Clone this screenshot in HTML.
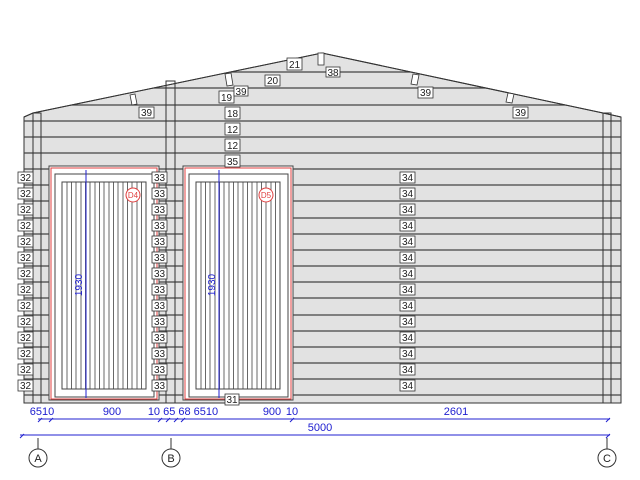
<!DOCTYPE html>
<html><head><style>body{margin:0;background:#fff}svg{display:block}</style></head><body>
<svg width="640" height="480" viewBox="0 0 640 480" xmlns="http://www.w3.org/2000/svg" font-family="Liberation Sans, sans-serif">
<defs><clipPath id="w"><polygon points="24,117 33,113 322,53 603,113 621,117 621,403 24,403"/></clipPath></defs>
<polygon points="24,117 33,113 322,53 603,113 621,117 621,403 24,403" fill="#e2e2e2" stroke="#333" stroke-width="1"/>
<g clip-path="url(#w)" stroke="#444" stroke-width="1.2">
<line x1="0" x2="640" y1="72" y2="72"/><line x1="0" x2="640" y1="88" y2="88"/><line x1="0" x2="640" y1="105" y2="105"/>
<line x1="0" x2="640" y1="121" y2="121"/><line x1="0" x2="640" y1="137" y2="137"/><line x1="0" x2="640" y1="153" y2="153"/>
<line x1="0" x2="640" y1="169" y2="169"/><line x1="0" x2="640" y1="185" y2="185"/><line x1="0" x2="640" y1="201" y2="201"/>
<line x1="0" x2="640" y1="218" y2="218"/><line x1="0" x2="640" y1="234" y2="234"/><line x1="0" x2="640" y1="250" y2="250"/>
<line x1="0" x2="640" y1="266" y2="266"/><line x1="0" x2="640" y1="282" y2="282"/><line x1="0" x2="640" y1="298" y2="298"/>
<line x1="0" x2="640" y1="315" y2="315"/><line x1="0" x2="640" y1="331" y2="331"/><line x1="0" x2="640" y1="347" y2="347"/>
<line x1="0" x2="640" y1="363" y2="363"/><line x1="0" x2="640" y1="379" y2="379"/><line x1="0" x2="640" y1="395" y2="395"/>
</g>
<g fill="none" stroke="#333">
<rect x="33" y="113" width="8" height="290"/><rect x="166" y="81" width="9" height="322"/><rect x="603" y="113" width="8" height="290"/>
</g>
<polyline points="24,117 33,113 322,53 603,113 621,117" fill="none" stroke="#333"/>
<g fill="#fff" stroke="#333" stroke-width="0.8">
<rect x="318" y="53" width="6" height="12"/>
<polygon points="130,95 135,94 137,104 132,105"/><polygon points="225,74 231,73 233,85 227,86"/>
<polygon points="413,74 419,75 417,85 411,84"/><polygon points="508,93 514,94 512,103 506,102"/>
</g>
<g fill="none">
<rect x="49" y="166" width="110" height="234" stroke="#444" fill="#fff"/><rect x="51" y="168" width="106" height="231" stroke="#e04040"/>
<rect x="55" y="174" width="99" height="223" stroke="#444"/><rect x="62" y="182" width="84" height="207" stroke="#444"/>
<rect x="183" y="166" width="110" height="234" stroke="#444" fill="#fff"/><rect x="185" y="168" width="106" height="231" stroke="#e04040"/>
<rect x="189" y="174" width="99" height="223" stroke="#444"/><rect x="196" y="182" width="84" height="207" stroke="#444"/>
</g>
<g stroke="#444" stroke-width="0.8">
<path d="M67 182V389M71.5 182V389M76 182V389M81 182V389M85.5 182V389M90 182V389M95 182V389M99.5 182V389M104 182V389M109 182V389M113.5 182V389M118 182V389M123 182V389M127.5 182V389M132 182V389M137 182V389M141.5 182V389"/>
<path d="M201 182V389M205.5 182V389M210 182V389M215 182V389M219.5 182V389M224 182V389M229 182V389M233.5 182V389M238 182V389M243 182V389M247.5 182V389M252 182V389M257 182V389M261.5 182V389M266 182V389M271 182V389M275.5 182V389"/>
</g>
<circle cx="133" cy="195" r="7" fill="#fff" stroke="#e04040"/><text x="133" y="198" font-size="8" fill="#e04040" text-anchor="middle">D4</text>
<circle cx="266" cy="195" r="7" fill="#fff" stroke="#e04040"/><text x="266" y="198" font-size="8" fill="#e04040" text-anchor="middle">D5</text>
<g stroke="#2020d0" fill="none"><line x1="86" y1="170" x2="86" y2="398"/><line x1="219" y1="170" x2="219" y2="398"/></g>
<text transform="translate(82,285) rotate(-90)" font-size="10" fill="#2020d0" text-anchor="middle">1930</text>
<text transform="translate(215,285) rotate(-90)" font-size="10" fill="#2020d0" text-anchor="middle">1930</text>
<g font-size="10" fill="#222" stroke-width="0.8">
<g stroke="#333" fill="#fff">
<rect x="18" y="172" width="15" height="11"/><rect x="18" y="188" width="15" height="11"/><rect x="18" y="204" width="15" height="11"/><rect x="18" y="220" width="15" height="11"/><rect x="18" y="236" width="15" height="11"/><rect x="18" y="252" width="15" height="11"/><rect x="18" y="268" width="15" height="11"/><rect x="18" y="284" width="15" height="11"/><rect x="18" y="300" width="15" height="11"/><rect x="18" y="316" width="15" height="11"/><rect x="18" y="332" width="15" height="11"/><rect x="18" y="348" width="15" height="11"/><rect x="18" y="364" width="15" height="11"/><rect x="18" y="380" width="15" height="11"/>
<rect x="152" y="172" width="15" height="11"/><rect x="152" y="188" width="15" height="11"/><rect x="152" y="204" width="15" height="11"/><rect x="152" y="220" width="15" height="11"/><rect x="152" y="236" width="15" height="11"/><rect x="152" y="252" width="15" height="11"/><rect x="152" y="268" width="15" height="11"/><rect x="152" y="284" width="15" height="11"/><rect x="152" y="300" width="15" height="11"/><rect x="152" y="316" width="15" height="11"/><rect x="152" y="332" width="15" height="11"/><rect x="152" y="348" width="15" height="11"/><rect x="152" y="364" width="15" height="11"/><rect x="152" y="380" width="15" height="11"/>
<rect x="400" y="172" width="15" height="11"/><rect x="400" y="188" width="15" height="11"/><rect x="400" y="204" width="15" height="11"/><rect x="400" y="220" width="15" height="11"/><rect x="400" y="236" width="15" height="11"/><rect x="400" y="252" width="15" height="11"/><rect x="400" y="268" width="15" height="11"/><rect x="400" y="284" width="15" height="11"/><rect x="400" y="300" width="15" height="11"/><rect x="400" y="316" width="15" height="11"/><rect x="400" y="332" width="15" height="11"/><rect x="400" y="348" width="15" height="11"/><rect x="400" y="364" width="15" height="11"/><rect x="400" y="380" width="15" height="11"/>
<rect x="225" y="155" width="15" height="12"/><rect x="225" y="123" width="15" height="12"/><rect x="225" y="139" width="15" height="12"/><rect x="225" y="107" width="15" height="12"/><rect x="219" y="91" width="15" height="12"/><rect x="234" y="86" width="14" height="10"/><rect x="265" y="75" width="15" height="11"/><rect x="287" y="58" width="15" height="12"/><rect x="326" y="67" width="14" height="10"/><rect x="139" y="107" width="15" height="11"/><rect x="418" y="87" width="15" height="11"/><rect x="513" y="107" width="15" height="11"/><rect x="225" y="394" width="14" height="11"/>
</g>
<g text-anchor="middle">
<text x="25.5" y="181">32</text><text x="25.5" y="197">32</text><text x="25.5" y="213">32</text><text x="25.5" y="229">32</text><text x="25.5" y="245">32</text><text x="25.5" y="261">32</text><text x="25.5" y="277">32</text><text x="25.5" y="293">32</text><text x="25.5" y="309">32</text><text x="25.5" y="325">32</text><text x="25.5" y="341">32</text><text x="25.5" y="357">32</text><text x="25.5" y="373">32</text><text x="25.5" y="389">32</text>
<text x="159.5" y="181">33</text><text x="159.5" y="197">33</text><text x="159.5" y="213">33</text><text x="159.5" y="229">33</text><text x="159.5" y="245">33</text><text x="159.5" y="261">33</text><text x="159.5" y="277">33</text><text x="159.5" y="293">33</text><text x="159.5" y="309">33</text><text x="159.5" y="325">33</text><text x="159.5" y="341">33</text><text x="159.5" y="357">33</text><text x="159.5" y="373">33</text><text x="159.5" y="389">33</text>
<text x="407.5" y="181">34</text><text x="407.5" y="197">34</text><text x="407.5" y="213">34</text><text x="407.5" y="229">34</text><text x="407.5" y="245">34</text><text x="407.5" y="261">34</text><text x="407.5" y="277">34</text><text x="407.5" y="293">34</text><text x="407.5" y="309">34</text><text x="407.5" y="325">34</text><text x="407.5" y="341">34</text><text x="407.5" y="357">34</text><text x="407.5" y="373">34</text><text x="407.5" y="389">34</text>
<text x="232.5" y="165">35</text><text x="232.5" y="149">12</text><text x="232.5" y="133">12</text><text x="232.5" y="117">18</text><text x="226.5" y="101">19</text><text x="241" y="95">39</text><text x="272.5" y="84">20</text><text x="294.5" y="68">21</text><text x="333" y="76">38</text><text x="146.5" y="116">39</text><text x="425.5" y="96">39</text><text x="520.5" y="116">39</text><text x="232" y="403">31</text>
</g>
</g>
<g stroke="#2020d0" fill="none">
<line x1="38" y1="419" x2="610" y2="419"/><line x1="20" y1="435" x2="610" y2="435"/>
<path d="M38 422l4-4M49 422l4-4M158 422l4-4M166 422l4-4M174 422l4-4M181 422l4-4M290 422l4-4M606 422l4-4M20 438l4-4M606 438l4-4"/>
</g>
<g fill="#2020d0" font-size="11" text-anchor="middle">
<text x="42" y="415">6510</text><text x="112" y="415">900</text><text x="183" y="415">10 65 68 6510</text><text x="272" y="415">900</text><text x="292" y="415">10</text><text x="456" y="415">2601</text><text x="320" y="431">5000</text>
</g>
<g stroke="#333" fill="#fff">
<line x1="38" y1="438" x2="38" y2="449"/><line x1="171" y1="438" x2="171" y2="449"/><line x1="607" y1="438" x2="607" y2="449"/>
<circle cx="38" cy="458" r="9"/><circle cx="171" cy="458" r="9"/><circle cx="607" cy="458" r="9"/>
</g>
<g font-size="11" fill="#222" text-anchor="middle"><text x="38" y="462">A</text><text x="171" y="462">B</text><text x="607" y="462">C</text></g>
</svg>
</body></html>
